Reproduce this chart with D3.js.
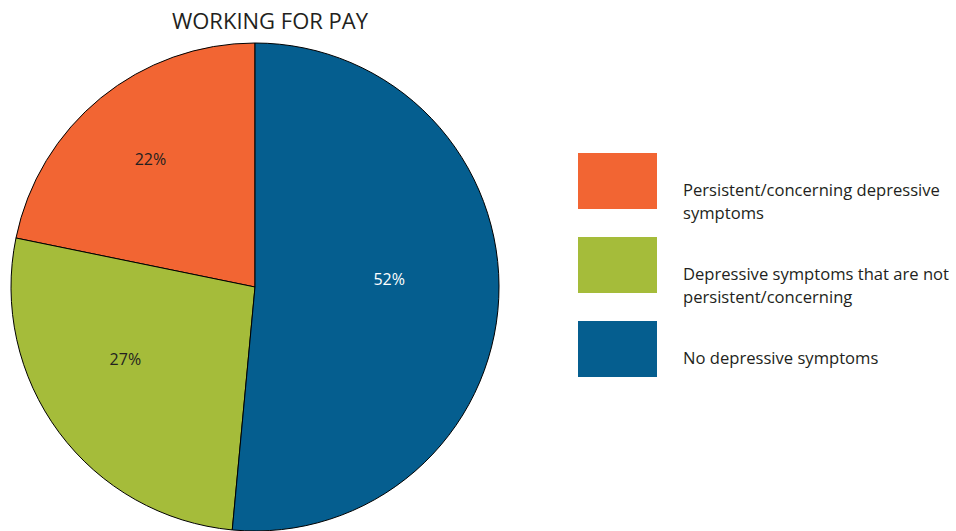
<!DOCTYPE html>
<html>
<head>
<meta charset="utf-8">
<script src="https://cdn.jsdelivr.net/npm/d3@7"></script>
<style>
  html, body { margin: 0; padding: 0; background: #fff; }
  svg { display: block; }
  text { font-family: "Open Sans", "Noto Sans", sans-serif; fill: #231f20; }
</style>
</head>
<body>
<svg id="chart" width="956" height="531"></svg>
<script>
// Share of respondents working for pay, by depressive-symptom group
const categories = [
  "Persistent/concerning depressive symptoms",
  "Depressive symptoms that are not persistent/concerning",
  "No depressive symptoms"
];
const legendLines = [
  ["Persistent/concerning depressive", "symptoms"],
  ["Depressive symptoms that are not", "persistent/concerning"],
  ["No depressive symptoms"]
];
const values = [22, 27, 52];
const colors = ["#F26533", "#A5BC3A", "#055E8F"];
const labelColors = ["#231f20", "#231f20", "#ffffff"];
const title = "WORKING FOR PAY";

const svg = d3.select("#chart");
const cx = 255, cy = 287, r = 244;

svg.append("text")
  .attr("x", 270).attr("y", 29)
  .attr("text-anchor", "middle")
  .style("font-size", "22px")
  .text(title);

const data = categories.map((c, i) => ({ name: c, value: values[i], color: colors[i], label: labelColors[i] }));

// Slices run counter-clockwise from 12 o'clock so the largest group fills the right half
const pie = d3.pie().sort(null).value(d => d.value)
  .startAngle(0).endAngle(-2 * Math.PI);
const arcs = pie(data);

const arc = d3.arc().innerRadius(0).outerRadius(r);
const labelArc = d3.arc().innerRadius(r * 0.6).outerRadius(r * 0.6);

const g = svg.append("g").attr("transform", `translate(${cx},${cy})`);

g.selectAll("path.slice")
  .data(arcs)
  .join("path")
  .attr("class", "slice")
  .attr("d", arc)
  .attr("fill", d => d.data.color)
  .attr("stroke", "#000")
  .attr("stroke-width", 1);

g.selectAll("text.pct")
  .data(arcs)
  .join("text")
  .attr("class", "pct")
  .attr("transform", d => `translate(${labelArc.centroid(d)})`)
  .attr("text-anchor", "middle")
  .attr("dx", -12)
  .attr("dy", -9)
  .style("font-size", "16px")
  .style("fill", d => d.data.label)
  .text(d => d.data.value + "%");

// Legend
const legend = svg.append("g").attr("transform", "translate(578,153)");
const item = legend.selectAll("g.item")
  .data(data)
  .join("g")
  .attr("class", "item")
  .attr("transform", (d, i) => `translate(0,${i * 84})`);

item.append("rect")
  .attr("width", 79).attr("height", 56)
  .attr("fill", d => d.color);

item.append("text")
  .attr("x", 105).attr("y", 43)
  .style("font-size", "16.6px")
  .selectAll("tspan")
  .data((d, i) => legendLines[i])
  .join("tspan")
  .attr("x", 105)
  .attr("dy", (t, j) => j === 0 ? 0 : 23)
  .text(t => t);
</script>
</body>
</html>
